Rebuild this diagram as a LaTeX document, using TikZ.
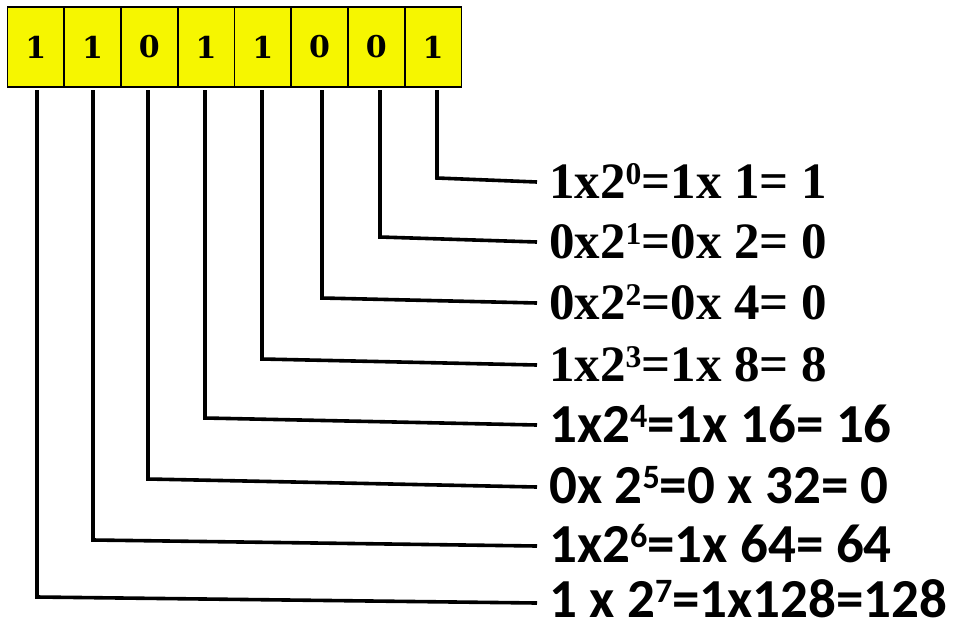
\documentclass[tikz,border=0pt]{standalone}
\usepackage{fontspec}
\usepackage{graphicx}
\setmainfont{Liberation Serif}
\newfontfamily\calib{Carlito}
\newfontfamily\cellfont{DejaVu Serif}
\newcommand\pw[1]{\raisebox{0.27em}{\scalebox{0.62}{#1}}}
\definecolor{celly}{RGB}{246,246,0}
\tikzset{
  cell/.style={draw=black, line width=1.6pt, fill=celly, minimum width=56.75pt, minimum height=80pt, inner sep=0pt, font=\cellfont\bfseries\fontsize{30}{30}\selectfont},
  wire/.style={draw=black, line width=3.6pt, line join=miter},
  lblA/.style={anchor=west, inner sep=0pt, text height=33pt, text depth=0pt, font=\bfseries\fontsize{51}{51}\selectfont},
  lblB/.style={anchor=west, inner sep=0pt, text height=35pt, text depth=0pt, font=\calib\bfseries\fontsize{55}{55}\selectfont}
}
\begin{document}
\begin{tikzpicture}[x=1pt,y=-1pt]
\useasboundingbox (0,0) rectangle (955,630);
% cells (b7 leftmost ... b0 rightmost)
\node[cell] (b7) at (35.9,47) {1};
\node[cell] (b6) at (92.6,47) {1};
\node[cell] (b5) at (149.4,47) {0};
\node[cell] (b4) at (206.1,47) {1};
\node[cell] (b3) at (262.9,47) {1};
\node[cell] (b2) at (319.6,47) {0};
\node[cell] (b1) at (376.4,47) {0};
\node[cell] (b0) at (433.1,47) {1};
% labels
\node[lblA] (t0) at (549,182) {1x2\pw{0}=1x 1= 1};
\node[lblA] (t1) at (549,242) {0x2\pw{1}=0x 2= 0};
\node[lblA] (t2) at (549,303) {0x2\pw{2}=0x 4= 0};
\node[lblA] (t3) at (549,365) {1x2\pw{3}=1x 8= 8};
\node[lblB] (t4) at (549,425) {1x2\pw{4}=1x 16= 16};
\node[lblB] (t5) at (549,486) {0x 2\pw{5}=0 x 32= 0};
\node[lblB] (t6) at (549,545) {1x2\pw{6}=1x 64= 64};
\node[lblB] (t7) at (549,600) {1 x 2\pw{7}=1x128=128};
% wire start points under the cells
\coordinate (v0) at (437,90);
\coordinate (v1) at (380,90);
\coordinate (v2) at (322,90);
\coordinate (v3) at (262,90);
\coordinate (v4) at (205,90);
\coordinate (v5) at (148,90);
\coordinate (v6) at (93,90);
\coordinate (v7) at (37,90);
% corners
\coordinate (k0) at (437,178);
\coordinate (k1) at (380,237);
\coordinate (k2) at (322,298);
\coordinate (k3) at (262,359);
\coordinate (k4) at (205,418);
\coordinate (k5) at (148,479);
\coordinate (k6) at (93,540);
\coordinate (k7) at (37,597);
% wire ends
\coordinate (e0) at (537,182);
\coordinate (e1) at (537,242);
\coordinate (e2) at (537,303);
\coordinate (e3) at (537,365);
\coordinate (e4) at (537,425);
\coordinate (e5) at (537,487);
\coordinate (e6) at (537,546);
\coordinate (e7) at (537,603);
\foreach \i in {0,...,7} {
  \draw[wire] (v\i) -- (k\i) -- (e\i);
}
\end{tikzpicture}
\end{document}
